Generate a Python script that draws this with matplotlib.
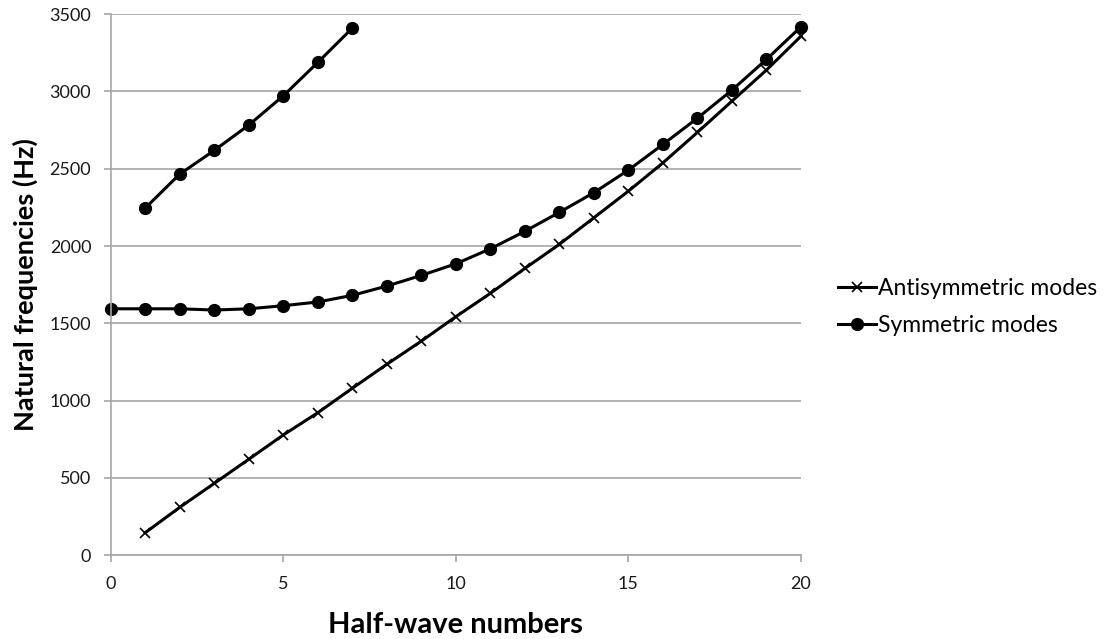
import matplotlib
matplotlib.use("Agg")
import matplotlib.pyplot as plt

# Data
anti_x = list(range(1, 21))
anti_y = [146, 310, 465, 621, 778, 922, 1080, 1235, 1385, 1543,
          1694, 1855, 2011, 2183, 2355, 2538, 2735, 2937, 3138, 3357]

sym_low_x = list(range(0, 21))
sym_low_y = [1594, 1594, 1594, 1586, 1594, 1614, 1638, 1681, 1741, 1810, 1885,
             1982, 2095, 2218, 2345, 2491, 2657, 2827, 3008, 3207, 3418]

sym_high_x = list(range(1, 8))
sym_high_y = [2245, 2465, 2618, 2782, 2971, 3187, 3409]

x_ticks = [0, 5, 10, 15, 20]
y_ticks = [0, 500, 1000, 1500, 2000, 2500, 3000, 3500]

plt.rcParams['font.family'] = ['Lato', 'DejaVu Sans']

fig = plt.figure(figsize=(11.08, 6.39), dpi=100)
ax = fig.add_axes([0.0999, 0.131, 0.623, 0.847])

grid_c = '#a6a6a6'
ax.set_xlim(0, 20)
ax.set_ylim(0, 3500)
ax.set_xticks(x_ticks)
ax.set_yticks(y_ticks)
ax.yaxis.grid(True, color=grid_c, linewidth=1.2)
ax.set_axisbelow(True)
for s in ['top', 'right']:
    ax.spines[s].set_visible(False)
for s in ['left', 'bottom']:
    ax.spines[s].set_color(grid_c)
    ax.spines[s].set_linewidth(1.2)
ax.tick_params(axis='both', direction='out', length=5, width=1.2, color=grid_c,
               labelsize=13, labelcolor='#1a1a1a')
ax.tick_params(axis='y', pad=9)
ax.tick_params(axis='x', pad=10)

l1, = ax.plot(anti_x, anti_y, color='black', linewidth=2.2, marker='x',
              markersize=7, markeredgewidth=1.2, label='Antisymmetric modes', clip_on=False)
l2, = ax.plot(sym_low_x, sym_low_y, color='black', linewidth=2.2, marker='o',
              markersize=8.5, label='Symmetric modes', clip_on=False)
ax.plot(sym_high_x, sym_high_y, color='black', linewidth=2.2, marker='o',
        markersize=8.5, clip_on=False)

ax.set_xlabel('Half-wave numbers', fontsize=21, fontweight='bold', labelpad=14)
ax.set_ylabel('Natural frequencies (Hz)', fontsize=19.5, fontweight='bold', labelpad=8)

fig.legend(handles=[l1, l2], loc='center left', bbox_to_anchor=(0.738, 0.52),
           frameon=False, fontsize=16.5, handlelength=1.66, handletextpad=0.05,
           labelspacing=0.7)

fig.savefig('out.png', dpi=100)
